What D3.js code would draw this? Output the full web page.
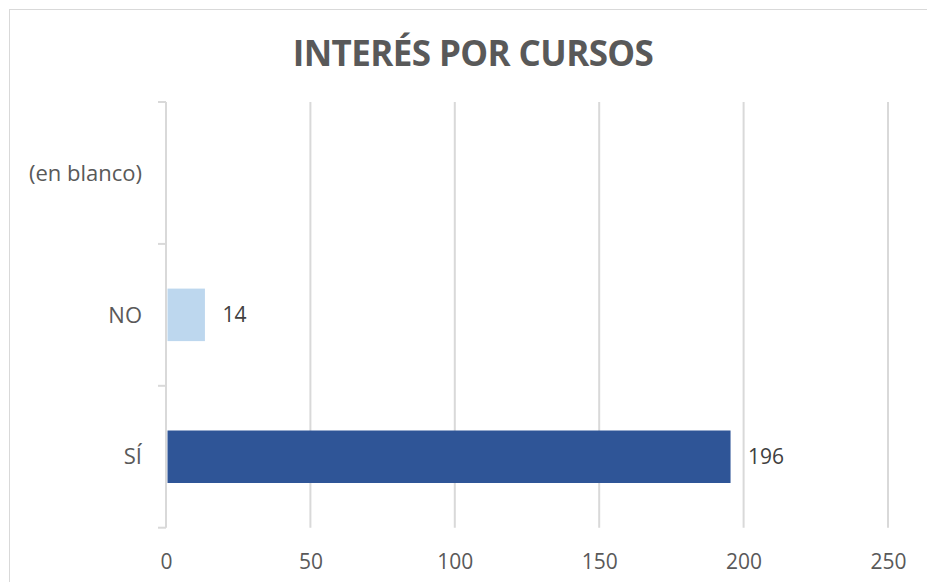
<!DOCTYPE html>
<html><head><meta charset="utf-8">
<script src="https://cdn.jsdelivr.net/npm/d3@7"></script>
<style>
html,body{margin:0;padding:0;background:#fff;}
svg{display:block;font-family:"Open Sans","Noto Sans",sans-serif;}
</style></head>
<body><svg id="c" width="927" height="582"></svg>
<script>
const title = "INTERÉS POR CURSOS";
const categories = ["(en blanco)", "NO", "SÍ"];
const values = [null, 14, 196];
const colors = [null, "#BDD7EE", "#2F5597"];
const xTicks = [0, 50, 100, 150, 200, 250];

const svg = d3.select("#c");
const W = 927, H = 582;
const m = {left:166, right:39, top:102, bottom:54.3};

// frame
svg.append("rect").attr("x",9.5).attr("y",9.5).attr("width",940).attr("height",600)
  .attr("fill","#fff").attr("stroke","#d9d9d9").attr("stroke-width",1);

svg.append("text").attr("x",473).attr("y",66).attr("text-anchor","middle")
  .attr("font-size",35).attr("font-weight",700).attr("fill","#595959")
  .attr("letter-spacing","-0.6").text(title);

const x = d3.scaleLinear().domain([0,250]).range([m.left, W - m.right]);
const y = d3.scaleBand().domain(categories).range([m.top, H - m.bottom])
  .paddingInner(0.63).paddingOuter(0.315);

// gridlines
svg.append("g").selectAll("line").data(xTicks.slice(1)).join("line")
  .attr("x1",d=>x(d)).attr("x2",d=>x(d)).attr("y1",m.top).attr("y2",H-m.bottom)
  .attr("stroke","#d9d9d9").attr("stroke-width",2);

// x axis labels
const xa = svg.append("g").attr("transform",`translate(0,${H-m.bottom})`)
  .call(d3.axisBottom(x).tickValues(xTicks).tickSize(0).tickPadding(26));
xa.select(".domain").remove();
xa.selectAll("text").attr("font-size",21).attr("fill","#595959")
  .attr("font-family","'Open Sans','Noto Sans',sans-serif");

// bars
const data = categories.map((c,i)=>({c, v:values[i], col:colors[i]})).filter(d=>d.v!=null);
svg.append("g").selectAll("rect").data(data).join("rect")
  .attr("x",x(0)+1.5).attr("y",d=>y(d.c)).attr("height",y.bandwidth())
  .attr("width",d=>x(d.v)-x(0)-3).attr("fill",d=>d.col);

svg.append("g").selectAll("text").data(data).join("text")
  .attr("x",d=>x(d.v)+16).attr("y",d=>y(d.c)+y.bandwidth()/2).attr("dy","0.35em")
  .attr("font-size",21).attr("fill","#404040").text(d=>d.v);

// y axis
const step = y.step();
const bounds = d3.range(categories.length+1).map(i=>m.top + i*step);
const ya = svg.append("g");
ya.append("line").attr("x1",x(0)).attr("x2",x(0)).attr("y1",m.top).attr("y2",H-m.bottom)
  .attr("stroke","#d9d9d9").attr("stroke-width",2);
ya.selectAll("line.t").data(bounds).join("line").attr("class","t")
  .attr("x1",x(0)-8).attr("x2",x(0)).attr("y1",d=>d).attr("y2",d=>d)
  .attr("stroke","#d9d9d9").attr("stroke-width",2);
ya.selectAll("text").data(categories).join("text")
  .attr("x",x(0)-24).attr("y",d=>y(d)+y.bandwidth()/2).attr("dy","0.35em")
  .attr("text-anchor","end").attr("font-size",22).attr("fill","#595959").text(d=>d);
</script></body></html>
